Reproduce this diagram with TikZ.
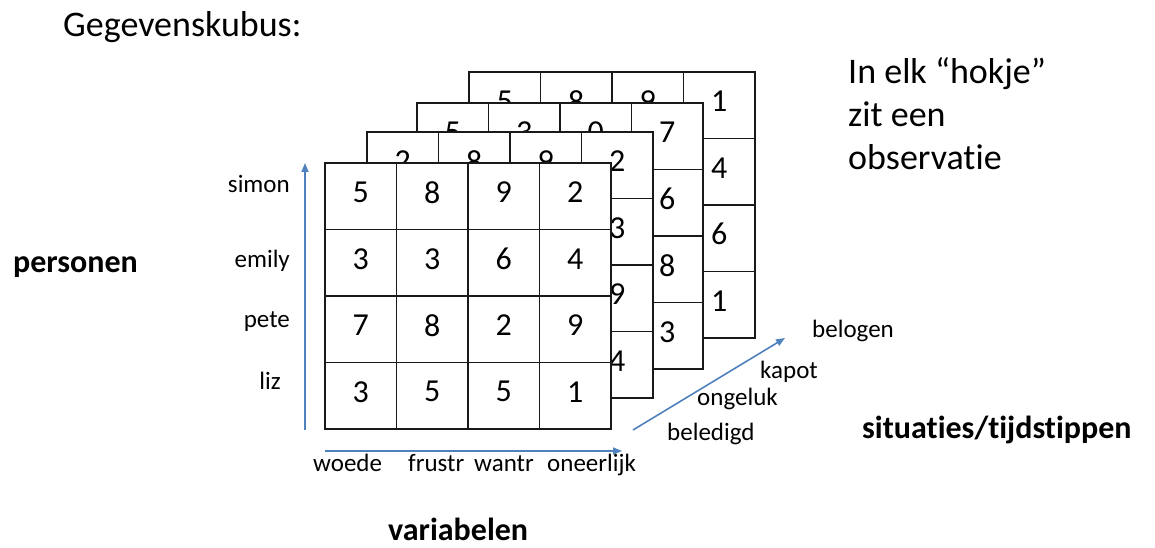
\documentclass[tikz,border=0pt]{standalone}
\usepackage{fontspec}
\setmainfont{Carlito}[Ligatures={TeX,NoCommon}]
\usetikzlibrary{arrows.meta}
\definecolor{axisblue}{RGB}{79,129,189}
\newcommand{\celw}{71.5}
\newcommand{\celh}{66.5}

\begin{document}
\begin{tikzpicture}[x=1pt, y=1pt,
			cell/.style = {draw=black!90, line width=1.8pt},
			num/.style = {font=\fontsize{32}{32}\selectfont, inner sep=0pt},
			lbl/.style = {font=\fontsize{25}{25}\selectfont, inner sep=0pt},
			axislbl/.style = {font=\fontsize{32}{32}\selectfont\bfseries, inner sep=0pt},
			big/.style = {font=\fontsize{36}{43}\selectfont, inner sep=0pt},
			axis/.style = {axisblue, line width=1.6pt, -{Triangle[length=9pt, width=7pt]}}]
			
			\useasboundingbox (0,0) rectangle (1155,-548);
			
			\node[big, anchor=base west] (title) at (63,-37) {Gegevenskubus:};
			\node[big, anchor=north west, align=left] (note) at (848,-57)
				{In elk “hokje”\\zit een\\observatie};
			
			% layer 4 (back)
			\begin{scope}[shift={(469,-72)}]
				\filldraw[cell, fill=white] (0,0) rectangle (4*\celw,-4*\celh);
				\draw[cell, xstep=\celw, ystep=\celh] (0,0) grid (4*\celw,-4*\celh);
				\foreach \v [count=\i] in {5,8,9,1}
					\node[num] (l4t\i) at (\i*\celw-0.5*\celw, 4-0.5*\celh) {\v};
				\foreach \v [count=\i] in {4,6,1}
					\node[num] (l4r\i) at (3.5*\celw, 4-\i*\celh-0.5*\celh) {\v};
			\end{scope}
			
			% layer 3
			\begin{scope}[shift={(417,-103)}]
				\filldraw[cell, fill=white] (0,0) rectangle (4*\celw,-4*\celh);
				\draw[cell, xstep=\celw, ystep=\celh] (0,0) grid (4*\celw,-4*\celh);
				\foreach \v [count=\i] in {5,3,0,7}
					\node[num] (l3t\i) at (\i*\celw-0.5*\celw, 4-0.5*\celh) {\v};
				\foreach \v [count=\i] in {6,8,3}
					\node[num] (l3r\i) at (3.5*\celw, 4-\i*\celh-0.5*\celh) {\v};
			\end{scope}
			
			% layer 2
			\begin{scope}[shift={(367,-132)}]
				\filldraw[cell, fill=white] (0,0) rectangle (4*\celw,-4*\celh);
				\draw[cell, xstep=\celw, ystep=\celh] (0,0) grid (4*\celw,-4*\celh);
				\foreach \v [count=\i] in {2,8,9,2}
					\node[num] (l2t\i) at (\i*\celw-0.5*\celw, 4-0.5*\celh) {\v};
				\foreach \v [count=\i] in {3,9,4}
					\node[num] (l2r\i) at (3.5*\celw, 4-\i*\celh-0.5*\celh) {\v};
			\end{scope}
			
			% layer 1 (front), all values
			\begin{scope}[shift={(325,-163)}]
				\filldraw[cell, fill=white] (0,0) rectangle (4*\celw,-4*\celh);
				\draw[cell, xstep=\celw, ystep=\celh] (0,0) grid (4*\celw,-4*\celh);
				\foreach \row [count=\r] in {{5,8,9,2},{3,3,6,4},{7,8,2,9},{3,5,5,1}}
					\foreach \v [count=\c] in \row
						\node[num] (v\r\c) at (\c*\celw-0.5*\celw, 4-\r*\celh+0.5*\celh) {\v};
			\end{scope}
			
			% axes
			\coordinate (org) at (305,-430);
			\coordinate (ptop) at (305,-163);
			\coordinate (vstart) at (325,-451);
			\coordinate (vend) at (622,-451);
			\coordinate (sstart) at (633,-430);
			\coordinate (send) at (785,-338);
			\draw[axis] (org) -- (ptop);
			\draw[axis] (vstart) -- (vend);
			\draw[axis] (sstart) -- (send);
			
			% personen
			\node[lbl, anchor=base east] (simon) at (290,-193) {simon};
			\node[lbl, anchor=base east] (emily) at (290,-267) {emily};
			\node[lbl, anchor=base east] (pete) at (290,-327) {pete};
			\node[lbl, anchor=base east] (liz) at (281,-389) {liz};
			
			% variabelen
			\node[lbl, anchor=base west] (woede) at (313,-471) {woede};
			\node[lbl, anchor=base west] (frustr) at (408,-471) {frustr};
			\node[lbl, anchor=base west] (wantr) at (474,-471) {wantr};
			\node[lbl, anchor=base west] (oneerlijk) at (547,-471) {oneerlijk};
			
			% situaties
			\node[lbl, anchor=base west] (beledigd) at (667,-440) {beledigd};
			\node[lbl, anchor=base west] (ongeluk) at (697,-405) {ongeluk};
			\node[lbl, anchor=base west] (kapot) at (760,-378) {kapot};
			\node[lbl, anchor=base west] (belogen) at (812,-337) {belogen};
			
			\node[axislbl, anchor=base west] (personen) at (13,-272) {personen};
			\node[axislbl, anchor=base west] (variabelen) at (388,-540) {variabelen};
			\node[axislbl, anchor=base west] (situaties) at (862,-438) {situaties/tijdstippen};
\end{tikzpicture}
\end{document}
